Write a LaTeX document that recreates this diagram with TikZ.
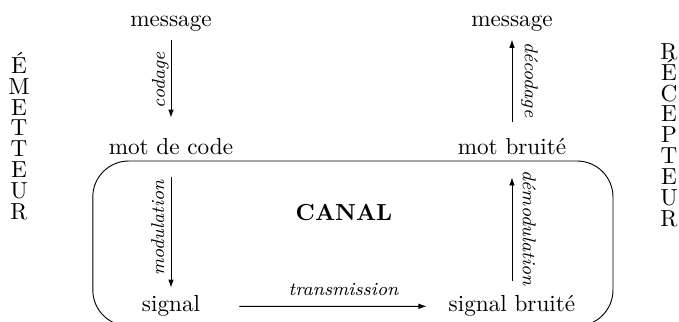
\documentclass[tikz,border=0pt]{standalone}
\usepackage{fontspec}
\usetikzlibrary{arrows.meta}
\newcommand\tightstackfont{\fontsize{10pt}{9pt}\selectfont\lineskiplimit-20pt\relax}
\tikzset{
  txt/.style={anchor=base},
  arr/.style={-{Latex[length=3.5pt,width=2.4pt]}},
  lab/.style={font=\footnotesize\itshape, anchor=base, inner sep=0pt},
  stackword/.style={align=center, inner sep=0pt, anchor=north,
    font=\tightstackfont},
  canalbox/.style={draw, rounded corners=15.5pt, minimum width=224.2pt,
    minimum height=71.1pt, inner sep=0pt}
}
\begin{document}
\begin{tikzpicture}[x=0.431pt,y=-0.431pt]
\useasboundingbox (0,0) rectangle (679,322);
% channel box
\node[canalbox] (box) at (352.9,243.5) {};
\node[font=\bfseries, anchor=base] (canal) at (344,221) {CANAL};
% texts
\node[txt] (msgL) at (171,26.7) {message};
\node[txt] (msgR) at (512,26.7) {message};
\node[txt] (codeL) at (171,155) {mot de code};
\node[txt] (bruitR) at (512,155) {mot bruité};
\node[txt] (sigL) at (171,312) {signal};
\node[txt] (sigR) at (512,312) {signal bruité};
% side words
\node[stackword] (emet) at (19,51.7) {É\\M\\E\\T\\T\\E\\U\\R};
\node[stackword] (recep) at (669,43) {R\\É\\C\\E\\P\\T\\E\\U\\R};
% arrows
\draw[arr, shorten >=5.6pt] (msgL) -- (codeL);
\draw[arr, shorten <=3.5pt] (bruitR) -- (msgR);
\draw[arr, shorten <=6pt] (codeL) -- (sigL);
\draw[arr, shorten <=3pt, shorten >=6pt] (sigR) -- (bruitR);
\draw[arr, shorten <=13.4pt, shorten >=6pt] (sigL) -- (sigR);
% labels
\node[lab, rotate=90] (lcod) at (165,80) {codage};
\node[lab, rotate=-90] (ldec) at (525,80) {décodage};
\node[lab, rotate=90] (lmod) at (164,228) {modulation};
\node[lab, rotate=-90] (ldem) at (523,228) {démodulation};
\node[lab] (ltra) at (343.5,296) {transmission};
\end{tikzpicture}
\end{document}
